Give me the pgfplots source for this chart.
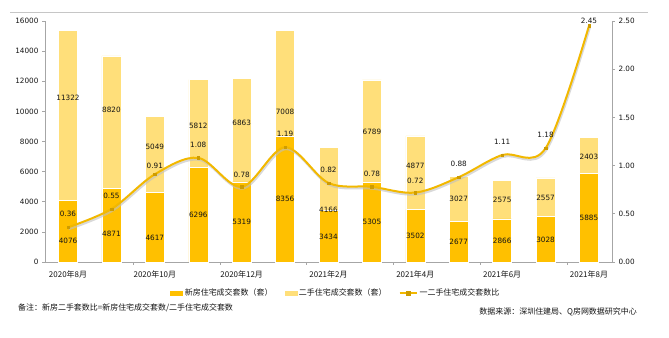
\documentclass[border=0pt]{standalone}
\usepackage{fontspec}
\setmainfont{DejaVu Sans}
\newfontfamily\cjk{Noto Sans CJK SC}
\usepackage{pgfplots}
\pgfplotsset{compat=1.18}
\definecolor{newc}{HTML}{FFC000}
\definecolor{oldc}{HTML}{FFDF7A}
\definecolor{linec}{HTML}{F2B800}
\definecolor{axc}{HTML}{A6A6A6}
\definecolor{txt}{HTML}{141414}
\newcommand{\numf}{\fontsize{7.3}{8}\selectfont}
\newcommand{\cjkf}{\cjk\fontsize{8}{9}\selectfont}
\pgfplotsset{
  common/.style={at={(45bp,76bp)}, anchor=south west, scale only axis,
    width=567bp, height=241bp, xmin=-0.53, xmax=12.53, clip=false,
    /pgf/number format/assume math mode=true},
}
\begin{document}
\begin{tikzpicture}
\path[use as bounding box] (0,0) rectangle (669bp,338bp);
\draw[gray!45, line width=0.8bp] (10bp,326bp) -- (648bp,326bp);
% bars
\begin{axis}[common, ybar stacked, bar width=19bp, ymin=0, ymax=16000,
  axis x line*=bottom, axis y line*=left,
  axis line style={axc, line width=0.6bp},
  xtick={1.5,3.5,5.5,7.5,9.5,11.5}, xticklabels={},
  extra x ticks={0,2,4,6,8,10,12},
  extra x tick labels={2020年8月,2020年10月,2020年12月,2021年2月,2021年4月,2021年6月,2021年8月},
  extra x tick style={tick style={draw=none}, tick label style={font=\cjkf, text=txt, yshift=-2bp}},
  ytick={0,2000,...,16000}, scaled y ticks=false,
  tick style={axc, line width=0.6bp}, major tick length=3bp, tick align=outside,
  yticklabel style={/pgf/number format/1000 sep={}, font=\numf, text=txt},
]
\addplot[fill=newc, draw=white, line width=0.5bp] coordinates {
(0,4076) (1,4871) (2,4617) (3,6296) (4,5319) (5,8356) (6,3434)
(7,5305) (8,3502) (9,2677) (10,2866) (11,3028) (12,5885)};
\addplot[fill=oldc, draw=white, line width=0.5bp] coordinates {
(0,11322) (1,8820) (2,5049) (3,5812) (4,6863) (5,7008) (6,4166)
(7,6789) (8,4877) (9,3027) (10,2575) (11,2557) (12,2403)};
\end{axis}
% bar labels
\begin{axis}[common, hide axis, ymin=0, ymax=16000]
\addplot[draw=none, mark=none, nodes near coords, point meta=explicit symbolic,
  nodes near coords align={center},
  every node near coord/.append style={font=\numf, text=txt, anchor=center}] coordinates {
(0,1394)[4076] (1,1860)[4871] (2,1600)[4617] (3,3120)[6296] (4,2650)[5319]
(5,4180)[8356] (6,1660)[3434] (7,2650)[5305] (8,1720)[3502] (9,1330)[2677]
(10,1400)[2866] (11,1460)[3028] (12,2920)[5885]};
\addplot[draw=none, mark=none, nodes near coords, point meta=explicit symbolic,
  nodes near coords align={center},
  every node near coord/.append style={font=\numf, text=txt, anchor=center}] coordinates {
(0,10888)[11322] (1,10091)[8820] (2,7635)[5049] (3,9029)[5812] (4,9228)[6863]
(5,9958)[7008] (6,3452)[4166] (7,8630)[6789] (8,6373)[4877] (9,4183)[3027]
(10,4116)[2575] (11,4249)[2557] (12,6971)[2403]};
\end{axis}
% ratio line
\begin{axis}[common, ymin=0, ymax=2.5, axis y line*=right, axis x line=none,
  axis line style={axc, line width=0.6bp},
  ytick={0,0.5,...,2.5},
  tick style={axc, line width=0.6bp}, major tick length=3bp, tick align=outside,
  yticklabel style={/pgf/number format/.cd, fixed, fixed zerofill, precision=2, /tikz/.cd, font=\numf, text=txt},
  legend columns=3,
  legend style={at={(0.513,-0.129)}, anchor=center, draw=none, fill=none,
    font=\cjkf, text=txt, /tikz/every even column/.append style={column sep=10bp},
    inner sep=0pt},
  legend cell align=left,
]
\addlegendimage{legend image code/.code={\fill[newc] (0bp,-2bp) rectangle (12bp,2bp);}}
\addlegendentry{新房住宅成交套数（套）}
\addlegendimage{legend image code/.code={\fill[oldc] (0bp,-2bp) rectangle (12bp,2bp);}}
\addlegendentry{二手住宅成交套数（套）}
\addlegendimage{linec, line width=2bp, mark=square*, mark size=1.6bp, mark options={fill=linec!85!black, draw=linec!85!black, line width=0.3bp}}
\addlegendentry{一二手住宅成交套数比}
\addplot[black!25, opacity=0.6, line width=2.2bp, smooth, tension=0.55, yshift=-1.8bp, xshift=0.8bp, forget plot] coordinates {
(0,0.36) (1,0.55) (2,0.91) (3,1.08) (4,0.78) (5,1.19) (6,0.82)
(7,0.78) (8,0.72) (9,0.88) (10,1.11) (11,1.18) (12,2.45)};
\addplot[linec, line width=2bp, smooth, tension=0.55, mark=square*, mark size=1.3bp,
  mark options={fill=linec!85!black, draw=linec!85!black, line width=0.3bp}, forget plot] coordinates {
(0,0.36) (1,0.55) (2,0.91) (3,1.08) (4,0.78) (5,1.19) (6,0.82)
(7,0.78) (8,0.72) (9,0.88) (10,1.11) (11,1.18) (12,2.45)};
\addplot[draw=none, mark=none, nodes near coords, point meta=explicit symbolic,
  nodes near coords align={center}, forget plot,
  every node near coord/.append style={font=\numf, text=txt, anchor=center}] coordinates {
(0,0.498)[0.36] (1,0.685)[0.55] (2,0.996)[0.91] (3,1.214)[1.08] (4,0.902)[0.78]
(5,1.328)[1.19] (6,0.954)[0.82] (7,0.913)[0.78] (8,0.84)[0.72] (9,1.017)[0.88]
(10,1.245)[1.11] (11,1.317)[1.18] (12,2.5)[2.45]};
\end{axis}
\node[anchor=west, font=\cjkf, text=txt, inner sep=0pt] at (18bp,30bp) {备注：新房二手套数比=新房住宅成交套数/二手住宅成交套数};
\node[anchor=east, font=\cjkf, text=txt, inner sep=0pt] at (637bp,26bp) {数据来源：深圳住建局、Q房网数据研究中心};
\end{tikzpicture}
\end{document}
